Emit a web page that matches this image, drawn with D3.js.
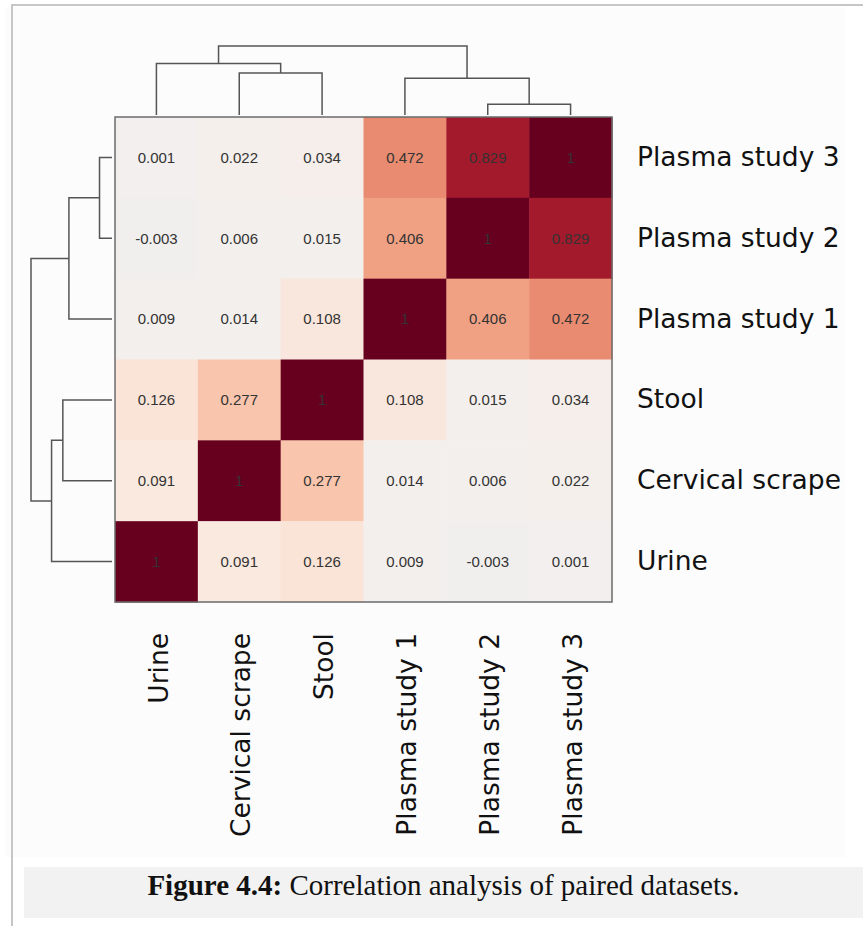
<!DOCTYPE html>
<html>
<head>
<meta charset="utf-8">
<script src="https://cdn.jsdelivr.net/npm/d3@7"></script>
<style>
  body { margin: 0; background: #fff; }
  svg { display: block; }
</style>
</head>
<body>
<figure style="margin:0"></figure>
<script>

// sample labels, columns left to right, rows top to bottom
var cols = ["Urine", "Cervical scrape", "Stool", "Plasma study 1", "Plasma study 2", "Plasma study 3"];
var rows = ["Plasma study 3", "Plasma study 2", "Plasma study 1", "Stool", "Cervical scrape", "Urine"];

// correlation values, one array per sample (in cols order)
var urine    = [1, 0.091, 0.126, 0.009, -0.003, 0.001];
var cervical = [0.091, 1, 0.277, 0.014, 0.006, 0.022];
var stool    = [0.126, 0.277, 1, 0.108, 0.015, 0.034];
var plasma1  = [0.009, 0.014, 0.108, 1, 0.406, 0.472];
var plasma2  = [-0.003, 0.006, 0.015, 0.406, 1, 0.829];
var plasma3  = [0.001, 0.022, 0.034, 0.472, 0.829, 1];

// cluster merges (relative height, root = 1)
var merges = [
  {id: "p23",  a: "Plasma study 2",  b: "Plasma study 3", h: 0.154},
  {id: "pl",   a: "Plasma study 1",  b: "p23",            h: 0.532},
  {id: "cs",   a: "Cervical scrape", b: "Stool",          h: 0.607},
  {id: "ucs",  a: "Urine",           b: "cs",             h: 0.746},
  {id: "root", a: "ucs",             b: "pl",             h: 1}
];

var caption = ["Figure 4.4:", " Correlation analysis of paired datasets."];

var W = 863, H = 926;
var svg = d3.select("figure").append("svg")
    .attr("width", W)
    .attr("height", H);

// figure background + page frame
svg.append("rect").attr("x", 5).attr("y", 7).attr("width", 840).attr("height", 850)
    .attr("fill", "#fcfcfc");
svg.append("line").attr("x1", 11).attr("x2", W).attr("y1", 5).attr("y2", 5)
    .attr("stroke", "#c6c6c6").attr("stroke-width", 2);
svg.append("line").attr("x1", 12).attr("x2", 12).attr("y1", 4).attr("y2", H)
    .attr("stroke", "#c6c6c6").attr("stroke-width", 2);

// scales
var x = d3.scaleBand().domain(cols).range([115, 612]);
var y = d3.scaleBand().domain(rows).range([117, 602]);
var color = d3.scaleSequential(d3.interpolateRdBu).domain([1, -1]);

var values = {
  "Urine": urine, "Cervical scrape": cervical, "Stool": stool,
  "Plasma study 1": plasma1, "Plasma study 2": plasma2, "Plasma study 3": plasma3
};

var cells = [];
rows.forEach(function(r) {
  cols.forEach(function(c, i) {
    cells.push({row: r, col: c, v: values[r][i]});
  });
});

var heat = svg.append("g").attr("class", "cells");

heat.selectAll("rect")
    .data(cells)
    .enter()
    .append("rect")
    .attr("x", function(d) { return x(d.col); })
    .attr("y", function(d) { return y(d.row); })
    .attr("width", x.bandwidth() + 0.5)
    .attr("height", y.bandwidth() + 0.5)
    .attr("fill", function(d) { return color(d.v); });

heat.selectAll("text")
    .data(cells)
    .enter()
    .append("text")
    .attr("x", function(d) { return x(d.col) + x.bandwidth() / 2; })
    .attr("y", function(d) { return y(d.row) + y.bandwidth() / 2; })
    .attr("dy", "0.36em")
    .attr("text-anchor", "middle")
    .style("font-family", "'Liberation Sans', Arial, sans-serif")
    .style("font-size", "15px")
    .attr("fill", "#333")
    .text(function(d) { return d.v; });

// heatmap frame
svg.append("rect")
    .attr("x", x.range()[0]).attr("y", y.range()[0])
    .attr("width", x.range()[1] - x.range()[0])
    .attr("height", y.range()[1] - y.range()[0])
    .attr("fill", "none")
    .attr("stroke", "#6b6b6b")
    .attr("stroke-width", 1.5);

// row labels on the right
var yaxis = d3.axisRight(y).tickSize(0).tickPadding(25);
var ya = svg.append("g")
    .attr("class", "y axis")
    .attr("transform", "translate(612,0)")
    .call(yaxis);

// column labels below, rotated
var xaxis = d3.axisBottom(x).tickSize(0);
var xa = svg.append("g")
    .attr("class", "x axis")
    .attr("transform", "translate(0,602)")
    .call(xaxis);

xa.selectAll("text")
    .attr("transform", "rotate(-90)")
    .attr("x", -31)
    .attr("y", 0)
    .attr("dy", "0.42em")
    .attr("text-anchor", "end");

svg.selectAll(".axis .domain").remove();
svg.selectAll(".axis text")
    .style("font-family", "'DejaVu Sans', sans-serif")
    .style("font-size", "26.5px")
    .attr("fill", "#111");

// dendrograms
var byId = {};
merges.forEach(function(m) { byId[m.id] = m; });

function pos(id, band) {
  if (!byId[id]) return band(id) + band.bandwidth() / 2;
  var m = byId[id];
  return (pos(m.a, band) + pos(m.b, band)) / 2;
}
function hgt(id) { return byId[id] ? byId[id].h : 0; }

var topH = d3.scaleLinear().domain([0, 1]).range([115, 46]);
var leftH = d3.scaleLinear().domain([0, 1]).range([112, 31]);

var dendro = svg.append("g")
    .attr("fill", "none")
    .attr("stroke", "#555")
    .attr("stroke-width", 1.5);

// top: columns
dendro.selectAll("path.top")
    .data(merges)
    .enter()
    .append("path")
    .attr("class", "top")
    .attr("d", function(m) {
      var xa = pos(m.a, x), xb = pos(m.b, x);
      return "M" + xa + "," + topH(hgt(m.a)) +
             "V" + topH(m.h) + "H" + xb + "V" + topH(hgt(m.b));
    });

// left: rows
dendro.selectAll("path.left")
    .data(merges)
    .enter()
    .append("path")
    .attr("class", "left")
    .attr("d", function(m) {
      var ya = pos(m.a, y), yb = pos(m.b, y);
      return "M" + leftH(hgt(m.a)) + "," + ya +
             "H" + leftH(m.h) + "V" + yb + "H" + leftH(hgt(m.b));
    });

// caption
svg.append("rect")
    .attr("x", 24).attr("y", 867)
    .attr("width", W - 24).attr("height", 51)
    .attr("fill", "#f2f2f2");

var cap = svg.append("text")
    .attr("x", 443.5)
    .attr("y", 895)
    .attr("text-anchor", "middle")
    .style("font-family", "'Liberation Serif', 'Times New Roman', serif")
    .style("font-size", "29px")
    .attr("fill", "#111");
cap.append("tspan").style("font-weight", "bold").text(caption[0]);
cap.append("tspan").text(caption[1]);

</script>
</body>
</html>
